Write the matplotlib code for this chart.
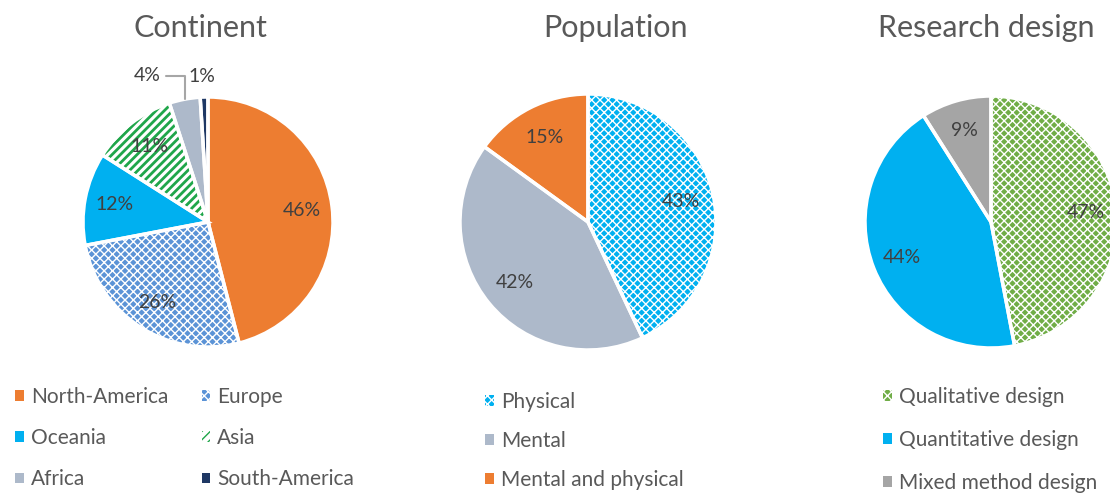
import matplotlib.pyplot as plt
import matplotlib as mpl
import numpy as np

mpl.rcParams['font.family'] = ['Lato', 'DejaVu Sans']
mpl.rcParams['hatch.linewidth'] = 1.0

# data
continents = ['North-America', 'Europe', 'Oceania', 'Asia', 'Africa', 'South-America']
continent_pct = [46, 26, 12, 11, 4, 1]
populations = ['Physical', 'Mental', 'Mental and physical']
population_pct = [43, 42, 15]
designs = ['Qualitative design', 'Quantitative design', 'Mixed method design']
design_pct = [47, 44, 9]

# styles
continent_faces = ['#ED7D31', '#5B93D6', '#00B0F0', '#FFFFFF', '#ADB9CA', '#1F3864']
continent_hcols = ['#ED7D31', '#FFFFFF', '#00B0F0', '#1FA64A', '#ADB9CA', '#1F3864']
continent_hatch = [None, 'xxxx', None, '////', None, None]
continent_hlw = [1, 1.0, 1, 2.0, 1, 1]
population_faces = ['#00B0F0', '#ADB9CA', '#ED7D31']
population_hcols = ['#FFFFFF', '#ADB9CA', '#ED7D31']
population_hatch = ['xxxx', None, None]
population_hlw = [1.0, 1, 1]
design_faces = ['#70AD47', '#00B0F0', '#A5A5A5']
design_hcols = ['#FFFFFF', '#00B0F0', '#A5A5A5']
design_hatch = ['xxxx', None, None]
design_hlw = [1.0, 1, 1]

W, H = 1110, 493
fig = plt.figure(figsize=(W / 100, H / 100), dpi=100)

TITLE_C = '#595959'
LABEL_C = '#404040'


def px_axes(cx, cy, r):
    return fig.add_axes([(cx - r) / W, 1 - (cy + r) / H, 2 * r / W, 2 * r / H])


def draw_pie(ax, values, faces, hcols, hatches, hlws, pctdist, small=5):
    wedges, _, autotexts = ax.pie(values, startangle=90, counterclock=False,
                                  colors=faces, pctdistance=pctdist,
                                  autopct=lambda p: f'{p:.0f}%' if p >= small else '',
                                  wedgeprops=dict(linewidth=0),
                                  textprops=dict(color=LABEL_C, fontsize=14))
    for w, ec, h, lw in zip(wedges, hcols, hatches, hlws):
        w.set_edgecolor(ec)
        if h:
            w.set_hatch(h)
            if hasattr(w, 'set_hatch_linewidth'):
                w.set_hatch_linewidth(lw)
            else:
                w._hatch_linewidth = lw
    # white separators on top
    ax.pie(values, startangle=90, counterclock=False,
           wedgeprops=dict(fill=False, edgecolor='white', linewidth=2.5))
    ax.set_xlim(-1, 1)
    ax.set_ylim(-1, 1)
    return wedges


def legend(handles, labels, x, y, ncol=1, spacing=1.0):
    fig.legend(handles, labels, loc='center left', bbox_to_anchor=(x / W, 1 - y / H),
               ncol=ncol, frameon=False, borderpad=0, handlelength=0.42,
               handleheight=0.42, handletextpad=0.33, labelspacing=spacing,
               columnspacing=1.6, fontsize=15, labelcolor=TITLE_C)


# Continent
ax1 = px_axes(208, 222, 125)
w1 = draw_pie(ax1, continent_pct, continent_faces, continent_hcols, continent_hatch,
              continent_hlw, 0.76)
for i, off, line in [(4, (-27, 17), True), (5, (-1.5, 15), False)]:
    w = w1[i]
    th = np.deg2rad((w.theta1 + w.theta2) / 2)
    ap = dict(arrowstyle='-', color='#A6A6A6', lw=1.5,
              connectionstyle='angle,angleA=0,angleB=90,rad=0',
              relpos=(1, 0.5), shrinkA=2, shrinkB=0) if line else None
    ax1.annotate(f'{continent_pct[i]}%', xy=(np.cos(th), np.sin(th)), xytext=off,
                 textcoords='offset points', ha='center', va='center',
                 fontsize=14, color=LABEL_C, arrowprops=ap, annotation_clip=False)
fig.text(200 / W, 1 - 28 / H, 'Continent', ha='center', va='center', fontsize=22, color=TITLE_C)
order = [0, 2, 4, 1, 3, 5]
legend([w1[i] for i in order], [continents[i] for i in order], 5, 438, ncol=2, spacing=1.03)

# Population
ax2 = px_axes(588, 222, 128)
w2 = draw_pie(ax2, population_pct, population_faces, population_hcols, population_hatch,
              population_hlw, 0.74)
fig.text(615 / W, 1 - 28 / H, 'Population', ha='center', va='center', fontsize=22, color=TITLE_C)
legend(w2, populations, 475, 441, spacing=0.9)

# Research design
ax3 = px_axes(991, 222, 126)
w3 = draw_pie(ax3, design_pct, design_faces, design_hcols, design_hatch, design_hlw, 0.76)
fig.text(986 / W, 1 - 28 / H, 'Research design', ha='center', va='center', fontsize=22, color=TITLE_C)
legend(w3, designs, 873, 440, spacing=1.1)

plt.savefig('out.png', dpi=100)
